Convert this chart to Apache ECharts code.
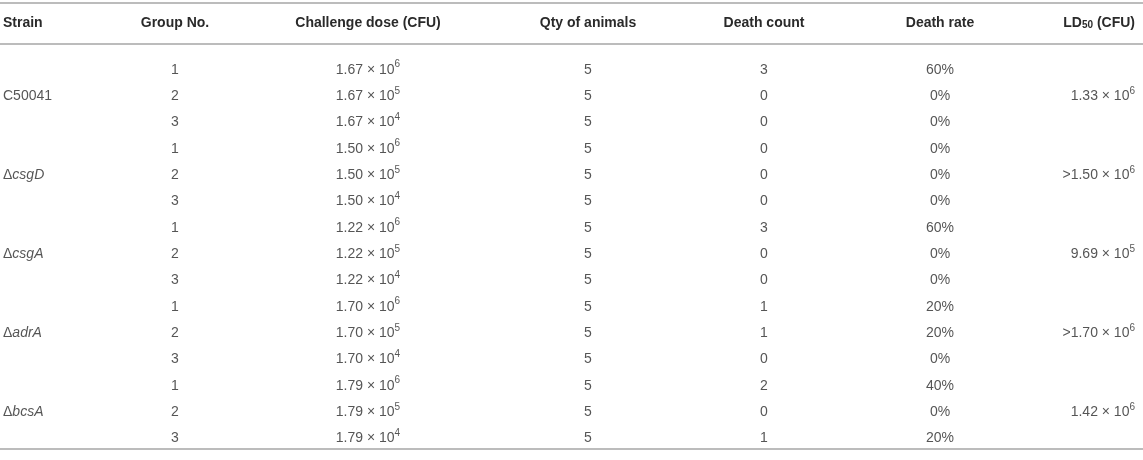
<!DOCTYPE html>
<html>
<head>
<meta charset="utf-8">
<script src="https://cdn.jsdelivr.net/npm/echarts@6/dist/echarts.min.js"></script>
<style>
html,body{margin:0;padding:0;background:#fff}
#main{width:1143px;height:460px}
</style>
</head>
<body>
<div id="main"></div>
<script>
// table data
var headers = ['Strain', 'Group No.', 'Challenge dose (CFU)', 'Qty of animals', 'Death count', 'Death rate', 'LD50 (CFU)'];
var strainPrefix = ['', 'Δ', 'Δ', 'Δ', 'Δ'];
var strainNames = ['C50041', 'csgD', 'csgA', 'adrA', 'bcsA'];
var strainItalic = [false, true, true, true, true];
var groupNo = [1, 2, 3];
var doseBase = ['1.67', '1.50', '1.22', '1.70', '1.79'];
var doseExp = [6, 5, 4];
var animals = [5, 5, 5, 5, 5, 5, 5, 5, 5, 5, 5, 5, 5, 5, 5];
var deathCount = [3, 0, 0, 0, 0, 0, 3, 0, 0, 1, 1, 0, 2, 0, 1];
var deathRate = [60, 0, 0, 0, 0, 0, 60, 0, 0, 20, 20, 0, 40, 0, 20];
var ld50Prefix = ['', '>', '', '>', ''];
var ld50Base = ['1.33', '1.50', '9.69', '1.70', '1.42'];
var ld50Exp = [6, 6, 5, 6, 6];

var FONT = '"Liberation Sans", Arial, Helvetica, sans-serif';
var TXT = '#2a2a2a';
var FS = 14;
var rich = {
    b: {fontSize: FS, fontFamily: FONT, color: TXT, lineHeight: 17, verticalAlign: 'bottom'},
    i: {fontSize: FS, fontFamily: FONT, color: TXT, fontStyle: 'italic', lineHeight: 17, verticalAlign: 'bottom'},
    sup: {fontSize: 10, fontFamily: FONT, color: TXT, lineHeight: 11, verticalAlign: 'top'},
    hb: {fontSize: FS, fontFamily: FONT, color: '#1e1e1e', fontWeight: 'bold', lineHeight: 17, verticalAlign: 'bottom'},
    hsub: {fontSize: 10, fontFamily: FONT, color: '#1e1e1e', fontWeight: 'bold', lineHeight: 11, verticalAlign: 'bottom'}
};

// column layout (x in px)
var colX = {strain: 3, group: 175, dose: 368, qty: 588, death: 764, rate: 940, ld50: 1135};

var rows = [];
for (var s = 0; s < strainNames.length; s++)
    for (var g = 0; g < groupNo.length; g++) rows.push(s * 3 + g);

function sci(base, exp) {
    return '{b|' + base + ' × 10}{sup|' + exp + '}';
}

function col(name, x, align, textFn, only) {
    var data = [];
    rows.forEach(function (r) {
        if (only && !only(r)) return;
        data.push({value: [x, r], label: {formatter: textFn(r)}});
    });
    return {
        type: 'scatter', name: name, symbolSize: 1,
        itemStyle: {color: 'rgba(0,0,0,0)'},
        silent: true, data: data,
        label: {show: true, position: 'inside', align: align, verticalAlign: 'middle', rich: rich}
    };
}

var series = [
    col('strain', colX.strain, 'left', function (r) {
        var s = Math.floor(r / 3);
        return '{b|' + strainPrefix[s] + '}' + (strainItalic[s] ? '{i|' : '{b|') + strainNames[s] + '}';
    }, function (r) { return r % 3 === 1; }),
    col('group', colX.group, 'center', function (r) { return '{b|' + groupNo[r % 3] + '}'; }),
    col('dose', colX.dose, 'center', function (r) { return sci(doseBase[Math.floor(r / 3)], doseExp[r % 3]); }),
    col('qty', colX.qty, 'center', function (r) { return '{b|' + animals[r] + '}'; }),
    col('death', colX.death, 'center', function (r) { return '{b|' + deathCount[r] + '}'; }),
    col('rate', colX.rate, 'center', function (r) { return '{b|' + deathRate[r] + '%}'; }),
    col('ld50', colX.ld50, 'right', function (r) {
        var s = Math.floor(r / 3);
        return '{b|' + ld50Prefix[s] + ld50Base[s] + ' × 10}{sup|' + ld50Exp[s] + '}';
    }, function (r) { return r % 3 === 1; })
];

var headerX = [colX.strain, colX.group, colX.dose, colX.qty, colX.death, colX.rate, colX.ld50];
var headerAlign = ['left', 'center', 'center', 'center', 'center', 'center', 'right'];
var graphic = [];
headers.forEach(function (h, k) {
    var txt = '{hb|' + h + '}';
    if (h.indexOf('LD50') === 0) txt = '{hb|LD}{hsub|50}{hb| (CFU)}';
    graphic.push({
        type: 'text', x: headerX[k], y: 22, silent: true,
        style: {text: txt, rich: rich, align: headerAlign[k], verticalAlign: 'middle', fill: TXT}
    });
});
[3, 44, 449].forEach(function (y) {
    graphic.push({
        type: 'line', silent: true,
        shape: {x1: 0, y1: y, x2: 1143, y2: y},
        style: {stroke: '#bcbcbc', lineWidth: 2}
    });
});

var chart = echarts.init(document.getElementById('main'));
chart.setOption({
    animation: false,
    grid: {left: 0, right: 0, top: 55, height: 395},
    xAxis: {type: 'value', min: 0, max: 1143, show: false},
    yAxis: {type: 'category', inverse: true, show: false, data: rows.map(function (r) { return 'r' + r; })},
    graphic: graphic,
    series: series
});
</script>
</body>
</html>
